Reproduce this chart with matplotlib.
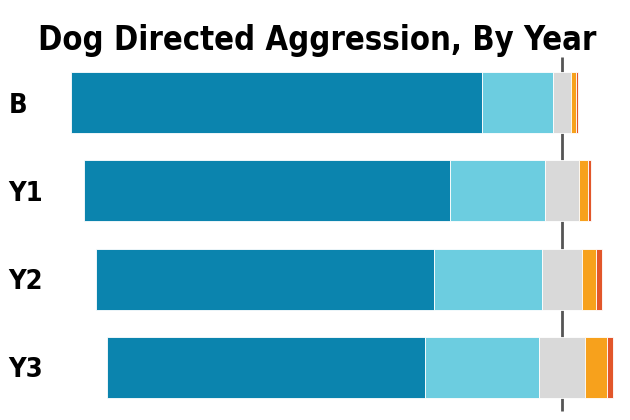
import matplotlib
matplotlib.use("Agg")
import matplotlib.pyplot as plt
from matplotlib import font_manager
import numpy as np

years = ["B", "Y1", "Y2", "Y3"]
dark_blue = [81.2, 72.1, 66.7, 62.8]
light_blue = [13.9, 18.9, 21.3, 22.5]
neutral = [3.7, 6.6, 8.0, 9.1]
orange = [1.0, 1.8, 2.8, 4.3]
red = [0.3, 0.6, 1.1, 1.3]

colors = ["#0b84ae", "#6ccde0", "#d9d9d9", "#f7a11c", "#e2562a"]

# look for a condensed / narrow face, else fall back to Roboto
fonts = font_manager.fontManager.ttflist
narrow = [f for f in fonts if "ondensed" in f.name or "Narrow" in f.name
          or "ondensed" in f.fname or "Narrow" in f.fname]
font = dict(family="Roboto")
if narrow:
    font = dict(fname=narrow[0].fname)
    for f in narrow:
        if "Bold" in f.fname and "Oblique" not in f.fname and "Italic" not in f.fname:
            font = dict(fname=f.fname)
            break
fp = font_manager.FontProperties(**font) if "fname" in font else \
    font_manager.FontProperties(family="Roboto", weight="bold")

fig = plt.figure(figsize=(6.3, 4.2), dpi=100)
ax = fig.add_axes([0, 0, 1, 1])

series = [dark_blue, light_blue, neutral, orange, red]
y = np.arange(len(years))
# diverging layout: centre of the neutral segment sits on zero
left = -(np.array(dark_blue) + np.array(light_blue) + np.array(neutral) / 2)
for vals, col in zip(series, colors):
    ax.barh(y, vals, left=left, height=0.69, color=col,
            edgecolor="white", linewidth=0.6)
    left = left + np.array(vals)

ax.vlines(0, -0.52, 3.49, color="#555555", linewidth=2, zorder=0)

for i, lab in enumerate(years):
    ax.text(-109.3, i, lab, ha="left", va="center_baseline",
            fontproperties=fp, fontsize=19.5)

title = fig.text(0.503, 0.882, "Dog Directed Aggression, By Year", ha="center",
                 va="baseline", fontproperties=fp, fontsize=29)

ax.set_xlim(-110.96, 13.43)
ax.set_ylim(3.597, -1.164)
ax.axis("off")

# fit title width to about 557 px
r = fig.canvas.get_renderer()
w = title.get_window_extent(r).width
title.set_fontsize(29 * 557 / w)

fig.savefig("out.png", dpi=100)
